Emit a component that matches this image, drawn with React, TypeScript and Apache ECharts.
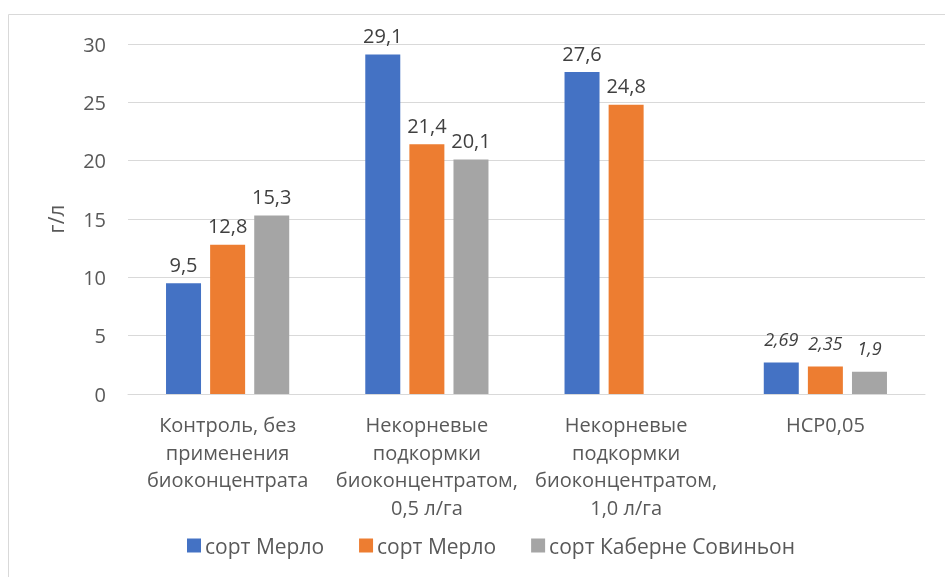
import React, { useEffect, useRef } from "react";
import * as echarts from "echarts";

const categories = [
  "Контроль, без\nприменения\nбиоконцентрата",
  "Некорневые\nподкормки\nбиоконцентратом,\n0,5 л/га",
  "Некорневые\nподкормки\nбиоконцентратом,\n1,0 л/га",
  "НСР0,05",
];
const seriesNames = ["сорт Мерло", "сорт Мерло", "сорт Каберне Совиньон"];
const merlo1 = [9.5, 29.1, 27.6, 2.69];
const merlo2 = [12.8, 21.4, 24.8, 2.35];
const cabernet = [15.3, 20.1, null, 1.9];
const colors = ["#4472C4", "#ED7D31", "#A5A5A5"];
const yTicks = { min: 0, max: 30, interval: 5 };

const FONT = "'Open Sans', 'Noto Sans', sans-serif";
const FS = 20;

export default function App() {
  const ref = useRef<HTMLDivElement>(null);
  useEffect(() => {
    if (!ref.current) return;
    const chart = echarts.init(ref.current, null, { renderer: "svg" });
    const all = [merlo1, merlo2, cabernet];
    const ids = ["s0", "s1", "s2"];
    const lastIdx = categories.length - 1;
    chart.setOption({
      animation: false,
      textStyle: { fontFamily: FONT },
      graphic: [
        {
          type: "rect",
          shape: { x: 8.5, y: 14.5, width: 1000, height: 1000 },
          style: { fill: "none", stroke: "#d9d9d9", lineWidth: 1 },
          silent: true,
        },
      ],
      grid: { left: 128, right: 20, top: 44, bottom: 183 },
      legend: {
        bottom: 16,
        left: 182,
        itemWidth: 14,
        itemHeight: 14,
        itemGap: 35,
        icon: "rect",
        data: ids,
        formatter: (n: string) => seriesNames[ids.indexOf(n)],
        textStyle: { fontSize: 21, color: "#595959", fontFamily: FONT, padding: [0, 0, 0, -1] },
      },
      xAxis: {
        type: "category",
        data: categories,
        axisLine: { lineStyle: { color: "#d9d9d9" } },
        axisTick: { show: false },
        axisLabel: {
          color: "#595959",
          fontSize: FS,
          lineHeight: 27.5,
          margin: 17,
          interval: 0,
          fontFamily: FONT,
        },
      },
      yAxis: {
        type: "value",
        min: yTicks.min,
        max: yTicks.max,
        interval: yTicks.interval,
        name: "г/л",
        nameLocation: "middle",
        nameGap: 62,
        nameTextStyle: { color: "#595959", fontSize: 21, fontFamily: FONT },
        axisLine: { show: false },
        axisTick: { show: false },
        splitLine: { lineStyle: { color: "#d9d9d9" } },
        axisLabel: { color: "#595959", fontSize: FS, margin: 22, fontFamily: FONT },
      },
      series: all.map((arr, si) => ({
        type: "bar",
        id: ids[si],
        name: ids[si],
        barWidth: 35,
        barGap: "26%",
        itemStyle: { color: colors[si] },
        label: {
          show: true,
          position: "top",
          distance: 9,
          color: "#404040",
          fontSize: FS,
          fontFamily: FONT,
          formatter: (p: any) => String(p.value).replace(".", ","),
        },
        data: arr.map((v, i) =>
          i === lastIdx
            ? { value: v, label: { fontStyle: "italic", fontSize: 18, distance: 15 } }
            : v
        ),
      })),
    });
    return () => chart.dispose();
  }, []);
  return (
    <div
      ref={ref}
      style={{ position: "fixed", left: 0, top: 0, width: 945, height: 577 }}
    />
  );
}
